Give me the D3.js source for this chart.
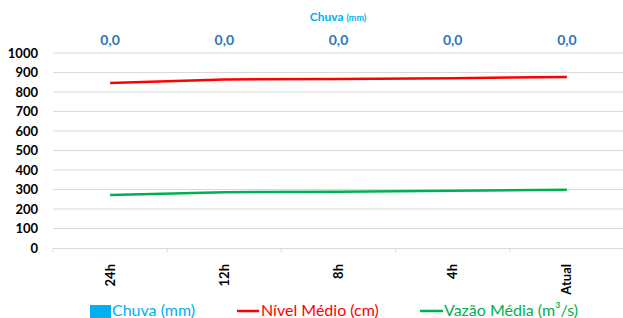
<!DOCTYPE html>
<html>
<head>
<meta charset="utf-8">
<script src="https://cdn.jsdelivr.net/npm/d3@7"></script>
<style>
  body { margin: 0; background: #fff; }
  svg { font-family: Lato, "Open Sans", sans-serif; }
</style>
</head>
<body>
<div id="chart"></div>
<script>
// chart data
var categories = ["24h", "12h", "8h", "4h", "Atual"];
var chuva = [0, 0, 0, 0, 0];
var nivel = [846, 864, 867, 871, 877];
var vazao = [272, 286, 289, 293, 299];
var yTicks = [0, 100, 200, 300, 400, 500, 600, 700, 800, 900, 1000];

var width = 623, height = 318;
var margin = {left: 53, right: 0, top: 53, bottom: 70};

var svg = d3.select("#chart").append("svg")
  .attr("width", width)
  .attr("height", height);

var x = d3.scaleBand().domain(categories).range([margin.left, width + 1]);
var y = d3.scaleLinear().domain([0, 1000]).range([248, 53]);

// grid lines
svg.append("g").selectAll("line")
  .data(yTicks.slice(1))
  .enter().append("line")
  .attr("x1", margin.left).attr("x2", width)
  .attr("y1", d => y(d)).attr("y2", d => y(d))
  .attr("stroke", "#d9d9d9").attr("stroke-width", 1);

// y axis labels
svg.append("g").selectAll("text")
  .data(yTicks)
  .enter().append("text")
  .attr("x", 38).attr("y", d => y(d) + 4.5)
  .attr("text-anchor", "end")
  .attr("font-size", 13).attr("font-weight", "bold")
  .attr("fill", "#000")
  .text(d => d);

// x axis
var xAxis = svg.append("g")
  .attr("transform", "translate(0," + y(0) + ")")
  .call(d3.axisBottom(x).tickSize(0).tickFormat(""));
xAxis.select(".domain").attr("stroke", "#d9d9d9");
svg.append("g").selectAll("line")
  .data(categories.concat([null]))
  .enter().append("line")
  .attr("x1", (d, i) => margin.left + i * x.bandwidth())
  .attr("x2", (d, i) => margin.left + i * x.bandwidth())
  .attr("y1", y(0)).attr("y2", y(0) + 4)
  .attr("stroke", "#d9d9d9");

svg.append("g").selectAll("text")
  .data(categories)
  .enter().append("text")
  .attr("transform", d => "translate(" + (x(d) + x.bandwidth() / 2 + 4.5) + ",264) rotate(-90)")
  .attr("text-anchor", "end")
  .attr("font-size", 13).attr("font-weight", "bold")
  .attr("fill", "#000")
  .text(d => d);

// chuva bars (all zero)
svg.append("g").selectAll("rect")
  .data(chuva)
  .enter().append("rect")
  .attr("x", (d, i) => x(categories[i]) + x.bandwidth() * 0.3)
  .attr("width", x.bandwidth() * 0.4)
  .attr("y", d => y(d))
  .attr("height", d => y(0) - y(d))
  .attr("fill", "#00b0f0");

// chuva labels on top
svg.append("g").selectAll("text")
  .data(chuva)
  .enter().append("text")
  .attr("x", (d, i) => x(categories[i]) + x.bandwidth() / 2)
  .attr("y", 45)
  .attr("text-anchor", "middle")
  .attr("font-size", 14).attr("font-weight", "bold")
  .attr("fill", "#2e75b6")
  .text(d => d.toFixed(1).replace(".", ","));

// title
var title = svg.append("text")
  .attr("x", 338).attr("y", 21)
  .attr("text-anchor", "middle")
  .attr("font-weight", "bold")
  .attr("fill", "#00b0f0");
title.append("tspan").attr("font-size", 12).text("Chuva ");
title.append("tspan").attr("font-size", 9).text("(mm)");

// lines
var line = d3.line()
  .x((d, i) => x(categories[i]) + x.bandwidth() / 2)
  .y(d => y(d));

svg.append("path").datum(nivel)
  .attr("d", line).attr("fill", "none")
  .attr("stroke", "#ff0000").attr("stroke-width", 2.5);

svg.append("path").datum(vazao)
  .attr("d", line).attr("fill", "none")
  .attr("stroke", "#00b050").attr("stroke-width", 2.5);

// legend
var legend = svg.append("g").attr("font-size", 16);
legend.append("rect").attr("x", 90).attr("y", 305).attr("width", 21).attr("height", 13).attr("fill", "#00b0f0");
legend.append("text").attr("x", 112).attr("y", 316).attr("fill", "#00b0f0").text("Chuva (mm)");
legend.append("line").attr("x1", 237).attr("x2", 259).attr("y1", 311).attr("y2", 311)
  .attr("stroke", "#ff0000").attr("stroke-width", 2.5);
legend.append("text").attr("x", 261).attr("y", 316).attr("fill", "#ff0000").text("Nível Médio (cm)");
legend.append("line").attr("x1", 420).attr("x2", 443).attr("y1", 311).attr("y2", 311)
  .attr("stroke", "#00b050").attr("stroke-width", 2.5);
legend.append("text").attr("x", 444).attr("y", 316).attr("fill", "#00b050").text("Vazão Média (m³/s)");
</script>
</body>
</html>
